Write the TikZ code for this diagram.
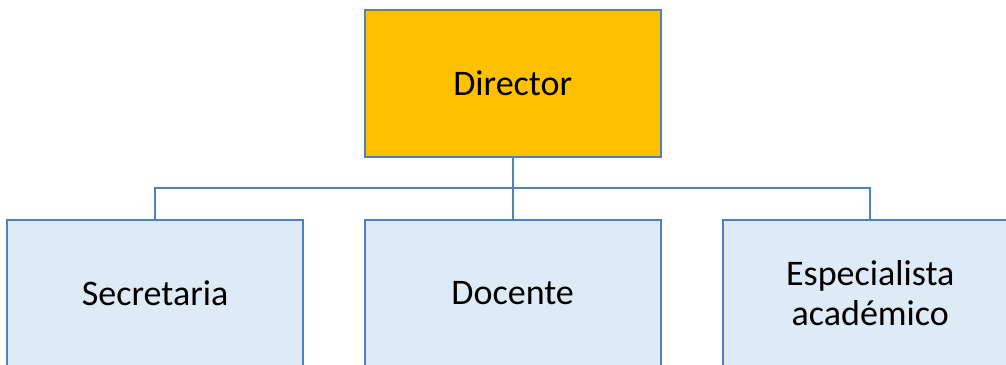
\documentclass[tikz,border=0pt]{standalone}
\usepackage{fontspec}
\setmainfont{Carlito}
\usetikzlibrary{positioning}
\definecolor{boxline}{HTML}{4F81BD}
\definecolor{bossfill}{HTML}{FFC000}
\definecolor{stafffill}{HTML}{DEEAF6}
\begin{document}
\begin{tikzpicture}[
x=1pt,y=1pt,line width=2pt,draw=boxline,node distance=63pt and 62pt,
boss node/.style={rectangle,fill=bossfill,draw=boxline,minimum width=295.6pt,minimum height=147pt,inner sep=0pt,outer sep=0pt,font=\fontsize{36}{40}\selectfont},
staff node/.style={rectangle,fill=stafffill,draw=boxline,minimum width=295.6pt,minimum height=147pt,inner sep=0pt,outer sep=0pt,align=center,font=\fontsize{36}{40}\selectfont}]
\useasboundingbox (0,0) rectangle (1006,364);
%director
  \node[boss node] (director) at (512.7,280.5) {Director};
%staff
  \node[staff node] (docente) [below=of director] {Docente};
  \node[staff node] (secretaria) [left=of docente] {Secretaria};
  \node[staff node] (especialista) [right=of docente] {Especialista\\acad\'emico};
%lines
  \coordinate[below=31pt of director.south] (bus);
  \draw[boxline] (director.south) -- (docente.north);
  \draw[boxline] (bus) -| (secretaria.north);
  \draw[boxline] (bus) -| (especialista.north);
\end{tikzpicture}
\end{document}
